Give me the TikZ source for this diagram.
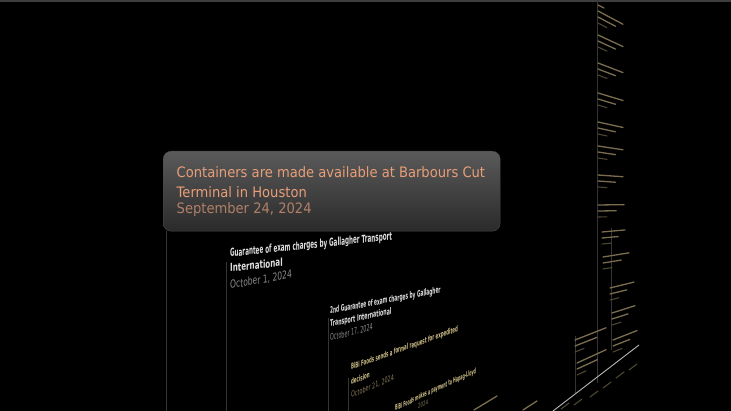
\documentclass[tikz,border=0pt]{standalone}
\usepackage{fontspec}
\setmainfont{DejaVu Sans}
\newfontfamily\boxfont{DejaVu Sans}[FakeStretch=0.91]
\definecolor{boxtop}{HTML}{5A5A5A}
\definecolor{boxbot}{HTML}{2A2A2A}
\definecolor{boxedge}{HTML}{4A4A4A}
\definecolor{salmon}{HTML}{E89E78}
\definecolor{salmondate}{HTML}{B08068}
\definecolor{stemc}{HTML}{353535}
\definecolor{wtext}{HTML}{E0E0E0}
\definecolor{gdate}{HTML}{8C8C8C}
\definecolor{ytext}{HTML}{CDBE88}
\definecolor{ydate}{HTML}{8A7D5C}
\definecolor{axisc}{HTML}{B8B8B8}
\definecolor{topline}{HTML}{3E3E3E}
\definecolor{ghc}{HTML}{7A6E4E}
\definecolor{ghdc}{HTML}{4E4632}
\tikzset{
  stemline/.style={draw=stemc, line width=0.9pt},
  gh/.style={draw=ghc, line width=1.3pt, line cap=round},
  ghd/.style={draw=ghdc, line width=1.1pt, line cap=round},
  boxline/.style={anchor=base west, inner sep=0pt, font=\boxfont\fontsize{14.4}{17}\selectfont},
}
% name, x, y, slope, xscale, font, colour, text
\newcommand\pline[8]{%
  \begin{scope}[shift={(#2,#3)},yslant=#4,xscale=#5,transform shape]
    \node[name=#1,anchor=base west,inner sep=0pt,text=#7,font=#6] at (0,0) {#8};
  \end{scope}}
\newcommand\fb[1]{\fontsize{#1}{#1}\selectfont\bfseries}
\newcommand\fr[1]{\fontsize{#1}{#1}\selectfont}
% x, y, title length
\newcommand\farentry[3]{%
  \pgfmathsetmacro\myslope{(200-#2)*0.0028}
  \draw[gh] (#1,#2) -- ++(#3,#3*\myslope);
  \draw[gh] (#1,#2+6) -- ++(#3*0.7,#3*0.7*\myslope);
  \draw[ghd] (#1,#2+12) -- ++(9,9*\myslope);}
\begin{document}
\begin{tikzpicture}[x=1pt,y=-1pt]
\fill[black] (0,0) rectangle (731,411);
\useasboundingbox (0,0) rectangle (731,411);
\draw[topline, line width=1.5pt] (0,1) -- (731,1);

% vertical stems
\coordinate (s1t) at (166,231); \coordinate (s1b) at (166,411);
\coordinate (s2t) at (226,262); \coordinate (s2b) at (226,411);
\coordinate (s3t) at (328,318); \coordinate (s3b) at (328,411);
\coordinate (s4t) at (348,378); \coordinate (s4b) at (348,411);
\coordinate (s5t) at (597,0);   \coordinate (s5b) at (597,383);
\coordinate (s6t) at (611,228); \coordinate (s6b) at (611,350);
\coordinate (s7t) at (575,336); \coordinate (s7b) at (575,393);
\foreach \s in {1,...,7} \draw[stemline] (s\s t) -- (s\s b);

% highlighted box
\node[name=box, draw=boxedge, rounded corners=8pt, top color=boxtop, bottom color=boxbot,
      minimum width=337pt, minimum height=80pt, anchor=north west, inner sep=0pt] at (163,151) {};
\node[name=bt1, boxline, text=salmon] at (176.5,178) {Containers are made available at Barbours Cut};
\node[name=bt2, boxline, text=salmon] at (176.5,197.5) {Terminal in Houston};
\node[name=bt3, boxline, text=salmondate] at (176.5,214) {September 24, 2024};

% perspective groups
\pline{g1a}{230}{257}{0.106}{0.51}{\fb{11}}{wtext}{Guarantee of exam charges by Gallagher Transport}
\pline{g1b}{230}{272}{0.11}{0.65}{\fb{11}}{wtext}{International}
\pline{g1c}{230}{289}{0.18}{0.69}{\fr{11}}{gdate}{October 1, 2024}

\pline{g2a}{330}{314}{0.19}{0.48}{\fb{9}}{wtext}{2nd Guarantee of exam charges by Gallagher}
\pline{g2b}{330}{327}{0.21}{0.52}{\fb{9}}{wtext}{Transport International}
\pline{g2c}{330}{341}{0.26}{0.54}{\fr{9}}{gdate}{October 17, 2024}

\pline{g3a}{351}{370}{0.36}{0.49}{\fb{8}}{ytext}{BiBi Foods sends a formal request for expedited}
\pline{g3b}{351}{385}{0.38}{0.5}{\fb{8}}{ytext}{decision}
\pline{g3c}{351}{398}{0.42}{0.61}{\fr{8}}{ydate}{October 21, 2024}

\pline{g4a}{395}{411}{0.47}{0.43}{\fb{7.5}}{ytext}{BiBi Foods makes a payment to Hapag-Lloyd}
\pline{g4b}{418}{409}{0.45}{0.6}{\fr{6.5}}{ydate}{2024}

% far, illegible entries
\draw[gh] (474,410) -- (497,396);
\draw[gh] (523,410) -- (537,401);
\draw[gh] (598,5) -- ++(6,3);
\farentry{598}{11}{25}
\farentry{598}{35}{25}
\farentry{598}{63}{25}
\farentry{598}{93}{25}
\farentry{598}{122}{25}
\farentry{598}{146}{25}
\farentry{598}{175}{25}
\farentry{598}{205}{26}
\farentry{602}{232}{23}
\farentry{603}{257}{26}
\farentry{610}{288}{24}
\farentry{612}{313}{23}
\farentry{613}{340}{24}
\farentry{575}{340}{31}
\farentry{577}{363}{29}

% axis
\coordinate (ax0) at (553,411); \coordinate (ax1) at (639,345);
\draw[axisc, line width=0.9pt] (ax0) -- (ax1);
\foreach \x/\y in {565/406, 578/402, 594/394, 607/385, 620/375, 633/367}
  \draw[ghd] (\x-4,\y+3) -- (\x+4,\y-3);
\end{tikzpicture}
\end{document}
